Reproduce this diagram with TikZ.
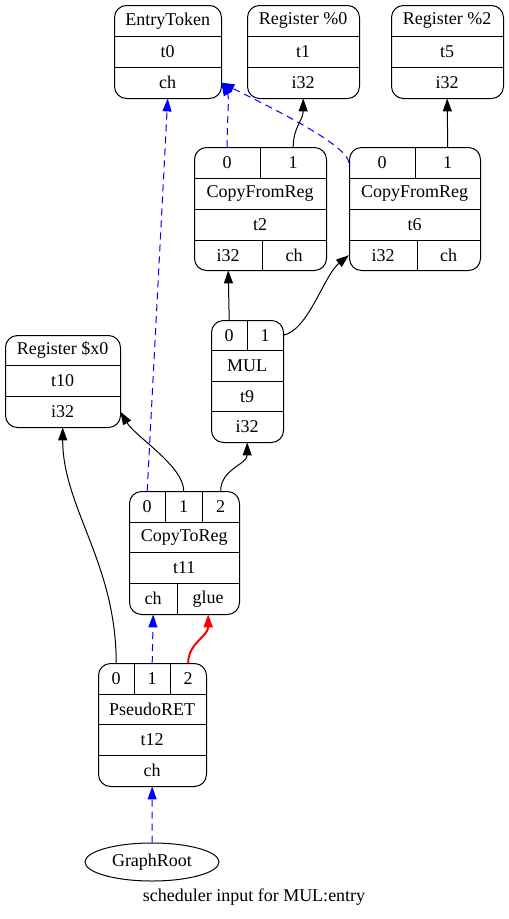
\documentclass[tikz,border=0pt]{standalone}
\usepackage{fontspec}
\setmainfont{Liberation Serif}
\usetikzlibrary{arrows.meta,calc,shapes.geometric}
\tikzset{
  cellbox/.style={inner sep=0pt, anchor=north west, font=\fontsize{18}{20}\selectfont},
  recbox/.style={draw, line width=1pt, rounded corners=12pt, inner sep=0pt, anchor=north west},
  divline/.style={line width=1pt},
  dagedge/.style={line width=1pt, -{Triangle[length=13pt,width=9pt]}},
  chainedge/.style={dagedge, blue, dash pattern=on 7pt off 5pt},
  glueedge/.style={dagedge, red, line width=2pt},
}
\newcommand\mkcell[6]{\node[cellbox, minimum width=#4pt, minimum height=#5pt] (#1) at (#2,#3) {#6};}
\newcommand\mkrec[5]{\node[recbox, minimum width=#4pt, minimum height=#5pt] (#1) at (#2,#3) {};}
\newcommand\hdiv[1]{\draw[divline] (#1.south west) -- (#1.south east);}
\newcommand\vdiv[1]{\draw[divline] (#1.north east) -- (#1.south east);}
\begin{document}
\begin{tikzpicture}[x=1pt,y=-1pt]
\useasboundingbox (0,0) rectangle (509,919);
% EntryToken
\mkrec{et}{114}{5}{107}{93}
\mkcell{etn}{114}{5}{107}{31}{EntryToken}
\mkcell{ett}{114}{36}{107}{31}{t0}
\mkcell{etch}{114}{67}{107}{31}{ch}
\hdiv{etn}\hdiv{ett}
% Register %0
\mkrec{r0}{247}{5}{112}{93}
\mkcell{r0n}{247}{5}{112}{31}{Register \%0}
\mkcell{r0t}{247}{36}{112}{31}{t1}
\mkcell{r0i}{247}{67}{112}{31}{i32}
\hdiv{r0n}\hdiv{r0t}
% Register %2
\mkrec{r2}{391}{5}{112}{93}
\mkcell{r2n}{391}{5}{112}{31}{Register \%2}
\mkcell{r2t}{391}{36}{112}{31}{t5}
\mkcell{r2i}{391}{67}{112}{31}{i32}
\hdiv{r2n}\hdiv{r2t}
% CopyFromReg t2
\mkrec{cfa}{194}{147}{132}{123}
\mkcell{cfap0}{194}{147}{66}{31}{0}
\mkcell{cfap1}{260}{147}{66}{31}{1}
\mkcell{cfan}{194}{178}{132}{31}{CopyFromReg}
\mkcell{cfat}{194}{209}{132}{31}{t2}
\mkcell{cfai}{194}{240}{68}{30}{i32}
\mkcell{cfach}{262}{240}{64}{30}{ch}
\hdiv{cfap0}\hdiv{cfap1}\hdiv{cfan}\hdiv{cfat}\vdiv{cfap0}\vdiv{cfai}
% CopyFromReg t6
\mkrec{cfb}{349}{147}{131}{123}
\mkcell{cfbp0}{349}{147}{66}{31}{0}
\mkcell{cfbp1}{415}{147}{65}{31}{1}
\mkcell{cfbn}{349}{178}{131}{31}{CopyFromReg}
\mkcell{cfbt}{349}{209}{131}{31}{t6}
\mkcell{cfbi}{349}{240}{68}{30}{i32}
\mkcell{cfbch}{417}{240}{63}{30}{ch}
\hdiv{cfbp0}\hdiv{cfbp1}\hdiv{cfbn}\hdiv{cfbt}\vdiv{cfbp0}\vdiv{cfbi}
% MUL
\mkrec{mul}{211}{320}{72}{122}
\mkcell{mulp0}{211}{320}{36}{30}{0}
\mkcell{mulp1}{247}{320}{36}{30}{1}
\mkcell{muln}{211}{350}{72}{31}{MUL}
\mkcell{mult}{211}{381}{72}{30}{t9}
\mkcell{muli}{211}{411}{72}{31}{i32}
\hdiv{mulp0}\hdiv{mulp1}\hdiv{muln}\hdiv{mult}\vdiv{mulp0}
% Register $x0
\mkrec{rx}{5}{335}{115}{92}
\mkcell{rxn}{5}{335}{115}{30}{Register \$x0}
\mkcell{rxt}{5}{365}{115}{31}{t10}
\mkcell{rxi}{5}{396}{115}{31}{i32}
\hdiv{rxn}\hdiv{rxt}
% CopyToReg
\mkrec{ctr}{129}{491}{110}{123}
\mkcell{ctrp0}{129}{491}{36}{31}{0}
\mkcell{ctrp1}{165}{491}{37}{31}{1}
\mkcell{ctrp2}{202}{491}{37}{31}{2}
\mkcell{ctrn}{129}{522}{110}{30}{CopyToReg}
\mkcell{ctrt}{129}{552}{110}{31}{t11}
\mkcell{ctrch}{129}{583}{48}{31}{ch}
\mkcell{ctrgl}{177}{583}{62}{31}{glue}
\hdiv{ctrp0}\hdiv{ctrp1}\hdiv{ctrp2}\hdiv{ctrn}\hdiv{ctrt}\vdiv{ctrp0}\vdiv{ctrp1}\vdiv{ctrch}
% PseudoRET
\mkrec{pr}{98}{663}{108}{123}
\mkcell{prp0}{98}{663}{36}{31}{0}
\mkcell{prp1}{134}{663}{36}{31}{1}
\mkcell{prp2}{170}{663}{36}{31}{2}
\mkcell{prn}{98}{694}{108}{30}{PseudoRET}
\mkcell{prt}{98}{724}{108}{31}{t12}
\mkcell{prch}{98}{755}{108}{31}{ch}
\hdiv{prp0}\hdiv{prp1}\hdiv{prp2}\hdiv{prn}\hdiv{prt}\vdiv{prp0}\vdiv{prp1}
% GraphRoot
\node[draw, line width=1pt, ellipse, inner sep=0pt, minimum width=134pt, minimum height=38pt, font=\fontsize{18}{20}\selectfont] (root) at (152,862) {GraphRoot};
\node[inner sep=0pt, font=\fontsize{18}{20}\selectfont] (caption) at (254,897) {scheduler input for MUL:entry};
% edges
\draw[chainedge] (cfap0.north) .. controls +(0,-30) and +(8,14) .. (etch.east);
\draw[chainedge] (cfbp0.west) .. controls +(-3,-18) and +(60,30) .. (etch.east);
\draw[dagedge] (cfap1.north) .. controls +(0,-20) and +(0,22) .. (r0i.south);
\draw[dagedge] (cfbp1.north) -- (r2i.south);
\draw[dagedge] (mulp0.north) -- (cfai.south);
\draw[dagedge] (mulp1.east) .. controls +(25,-5) and +(-25,20) .. (cfbi.west);
\draw[chainedge] (ctrp0.north) -- (etch.south);
\draw[dagedge] (ctrp1.north) .. controls +(0,-25) and +(15,25) .. (rxi.east);
\draw[dagedge] (ctrp2.north) .. controls +(0,-22) and +(0,22) .. (muli.south);
\draw[dagedge] (prp0.north) .. controls +(0,-100) and +(0,80) .. (rxi.south);
\draw[chainedge] (prp1.north) -- (ctrch.south);
\draw[glueedge] (prp2.north) .. controls +(0,-20) and +(0,22) .. (ctrgl.south);
\draw[chainedge] (root.north) -- (prch.south);
\end{tikzpicture}
\end{document}
